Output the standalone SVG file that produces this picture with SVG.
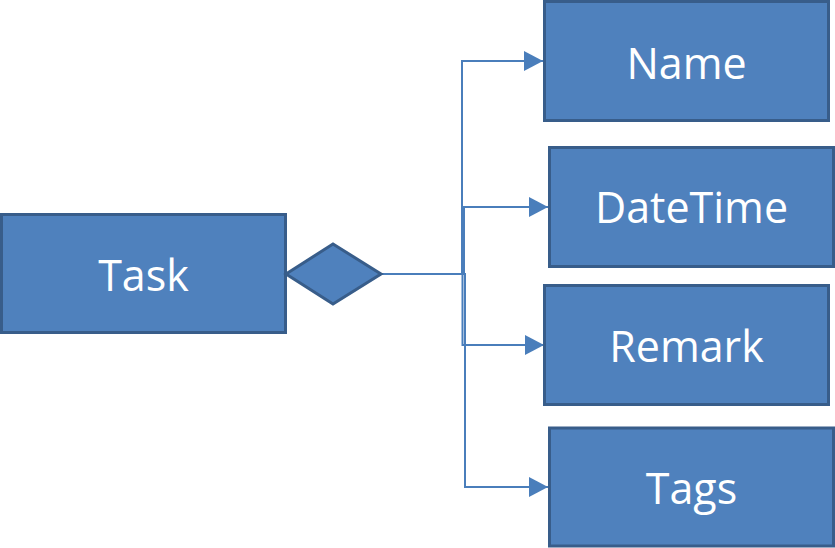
<svg xmlns="http://www.w3.org/2000/svg" width="835" height="548" viewBox="0 0 835 548">
<style>
.box{fill:#4F81BD;stroke:#385D8A;stroke-width:3}
.lbl{fill:#FFFFFF;font-family:"Open Sans","Liberation Sans",sans-serif;font-size:43px;text-anchor:middle}
.con{fill:none;stroke:#4A7EBB;stroke-width:2}
</style>
<defs>
<marker id="arr" markerUnits="userSpaceOnUse" markerWidth="19" markerHeight="20" refX="19" refY="10" orient="auto">
<path d="M0,0 L19,10 L0,20 Z" fill="#4A7EBB"/>
</marker>
</defs>
<g id="connectors">
<polyline class="con" points="381,274 462,274 462,61 543,61" marker-end="url(#arr)"/>
<polyline class="con" points="381,274 464,274 464,207 548,207" marker-end="url(#arr)"/>
<polyline class="con" points="381,274 462.5,274 462.5,345 544,345" marker-end="url(#arr)"/>
<polyline class="con" points="381,274 465,274 465,487 548,487" marker-end="url(#arr)"/>
</g>
<g id="task">
<rect class="box" x="1.5" y="214.5" width="284" height="118"/>
<text class="lbl" x="143.5" y="291">Task</text>
</g>
<g id="diamond">
<polygon class="box" points="286,274 333,244 381,274 333,304"/>
</g>
<g id="name">
<rect class="box" x="544.5" y="1.5" width="284" height="119"/>
<text class="lbl" x="686.5" y="78.5">Name</text>
</g>
<g id="datetime">
<rect class="box" x="549.5" y="147.5" width="284" height="119"/>
<text class="lbl" x="691.5" y="223">DateTime</text>
</g>
<g id="remark">
<rect class="box" x="544.5" y="285.5" width="284" height="119"/>
<text class="lbl" x="686.5" y="362">Remark</text>
</g>
<g id="tags">
<rect class="box" x="549.5" y="428" width="284" height="118"/>
<text class="lbl" x="691.5" y="504">Tags</text>
</g>
</svg>
